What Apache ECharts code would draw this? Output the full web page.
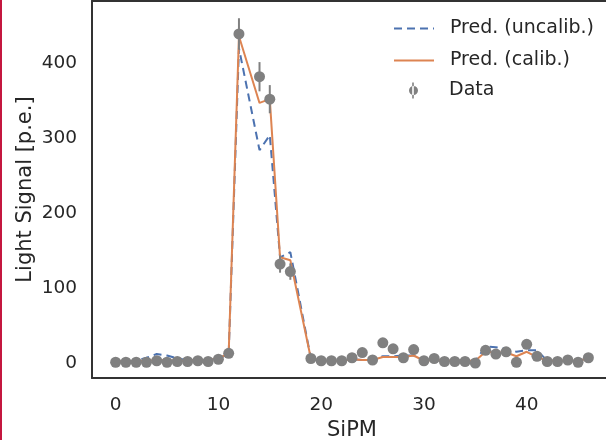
<!DOCTYPE html>
<html>
<head>
<meta charset="utf-8">
<script src="https://cdn.jsdelivr.net/npm/echarts@6/dist/echarts.min.js"></script>
<style>
  html, body { margin: 0; padding: 0; background: #fff; }
  #chart { width: 606px; height: 440px; }
</style>
</head>
<body>
<div id="chart"></div>
<script>
// SiPM channels (13 and 18 have no reading)
const sipm = [0, 1, 2, 3, 4, 5, 6, 7, 8, 9, 10, 11, 12, 14, 15, 16, 17, 19, 20, 21, 22, 23, 24, 25, 26, 27, 28, 29, 30, 31, 32, 33, 34, 35, 36, 37, 38, 39, 40, 41, 42, 43, 44, 45, 46];
const measured = [1, 1, 1, 1, 3, 1, 2, 2, 3, 2, 5, 13, 439, 382, 352, 132, 122, 6, 3, 3, 3, 7, 14, 4, 27, 19, 7, 18, 3, 6, 2, 2, 2, 0, 17, 12, 15, 1, 25, 9, 2, 2, 4, 1, 7];
const measuredErr = [1, 1, 1, 1, 1.7, 1, 1.4, 1.4, 1.7, 1.4, 2.2, 3.6, 21, 19.5, 18.8, 11.5, 11, 2.4, 1.7, 1.7, 1.7, 2.6, 3.7, 2, 5.2, 4.4, 2.6, 4.2, 1.7, 2.4, 1.4, 1.4, 1.4, 0, 4.1, 3.5, 3.9, 1, 5, 3, 1.4, 1.4, 2, 1, 2.6];
const predUncalib = [2, 2, 3, 7, 12, 10, 6, 4, 4, 4, 6, 12, 420, 284, 304, 141, 148, 6, 3, 3, 3, 5, 4, 4, 9, 9, 10, 10, 3, 4, 3, 3, 3, 3, 22, 21, 19, 15, 17, 17, 3, 3, 3, 3, 6];
const predCalib = [2, 2, 3, 3, 4, 4, 3, 3, 4, 4, 6, 13, 436, 347, 352, 141, 137, 6, 3, 3, 3, 5, 4, 4, 8, 8, 8, 10, 3, 4, 3, 3, 3, 3, 15, 14, 14, 9, 15, 8, 3, 3, 3, 3, 6];
const xTicks = [0, 10, 20, 30, 40];
const yTicks = [0, 100, 200, 300, 400];

const font = "DejaVu Sans";
const textColor = "#262626";
const spine = { show: true, onZero: false, lineStyle: { color: "#333333", width: 2 } };
const tickText = { fontFamily: font, fontSize: 18.5, color: textColor };
const labelText = { fontFamily: font, fontSize: 21, color: textColor };
const legendText = { fontFamily: font, fontSize: 19, color: textColor };

const chart = echarts.init(document.getElementById("chart"), null, { renderer: "canvas" });

chart.setOption({
  animation: false,
  backgroundColor: "#ffffff",
  grid: { left: 92, top: 1, width: 520, height: 377, outerBoundsMode: "none", containLabel: false },
  legend: [
    {
      data: ["Pred. (uncalib.)"],
      left: 393, top: 19, padding: 0,
      itemWidth: 40, itemHeight: 14,
      itemStyle: { opacity: 0 },
      textStyle: Object.assign({ padding: [0, 0, 0, 11] }, legendText)
    },
    {
      data: ["Pred. (calib.)"],
      left: 393, top: 51, padding: 0,
      itemWidth: 40, itemHeight: 14,
      itemStyle: { opacity: 0 },
      textStyle: Object.assign({ padding: [0, 0, 0, 11] }, legendText)
    },
    {
      data: [{ name: "Data", icon: "path://M3.2,0 h1.6 v16 h-1.6 Z M0,8 a4.5,4.5 0 1,0 9,0 a4.5,4.5 0 1,0 -9,0 Z" }],
      left: 409, top: 81, padding: 0,
      itemWidth: 9, itemHeight: 17,
      textStyle: Object.assign({ padding: [0, 0, 0, 26] }, legendText)
    }
  ],
  xAxis: [
    {
      type: "value",
      min: -2.3, max: 48.3,
      name: "SiPM",
      nameLocation: "middle",
      nameGap: 40,
      nameTextStyle: labelText,
      axisLine: spine,
      axisTick: { show: false },
      splitLine: { show: false },
      axisLabel: Object.assign({ customValues: xTicks, margin: 18 }, tickText)
    },
    {
      type: "value",
      position: "top",
      min: -2.3, max: 48.3,
      axisLine: spine,
      axisTick: { show: false },
      axisLabel: { show: false },
      splitLine: { show: false }
    }
  ],
  yAxis: {
    type: "value",
    min: -20, max: 483,
    name: "Light Signal [p.e.]",
    nameLocation: "middle",
    nameGap: 56,
    nameMoveOverlap: false,
    nameTextStyle: labelText,
    axisLine: spine,
    axisTick: { show: false },
    splitLine: { show: false },
    axisLabel: Object.assign({ customValues: yTicks, margin: 15 }, tickText)
  },
  graphic: [
    { type: "rect", left: 0, top: 0, shape: { width: 2, height: 440 }, style: { fill: "#c4163f" }, z: 100 }
  ],
  series: [
    {
      name: "Pred. (uncalib.)",
      type: "line",
      symbol: "none",
      z: 2,
      data: sipm.map((s, i) => [s, predUncalib[i]]),
      lineStyle: { color: "#4c72b0", width: 2, type: [8, 5] },
      itemStyle: { color: "#4c72b0" }
    },
    {
      name: "Pred. (calib.)",
      type: "line",
      symbol: "none",
      z: 3,
      data: sipm.map((s, i) => [s, predCalib[i]]),
      lineStyle: { color: "#dd8452", width: 2 },
      itemStyle: { color: "#dd8452" }
    },
    {
      name: "Data err",
      type: "custom",
      z: 4,
      encode: { x: 0, y: 1 },
      data: sipm.map((s, i) => [s, measured[i], measuredErr[i]]),
      renderItem(params, api) {
        const x = api.value(0);
        const y = api.value(1);
        const e = api.value(2);
        const top = api.coord([x, y + e]);
        const bot = api.coord([x, y - e]);
        return {
          type: "line",
          shape: { x1: top[0], y1: top[1], x2: bot[0], y2: bot[1] },
          style: { stroke: "#808080", lineWidth: 2 }
        };
      }
    },
    {
      name: "Data",
      type: "scatter",
      z: 5,
      symbolSize: 11,
      data: sipm.map((s, i) => [s, measured[i]]),
      itemStyle: { color: "#808080", opacity: 1 }
    }
  ]
});
</script>
</body>
</html>
